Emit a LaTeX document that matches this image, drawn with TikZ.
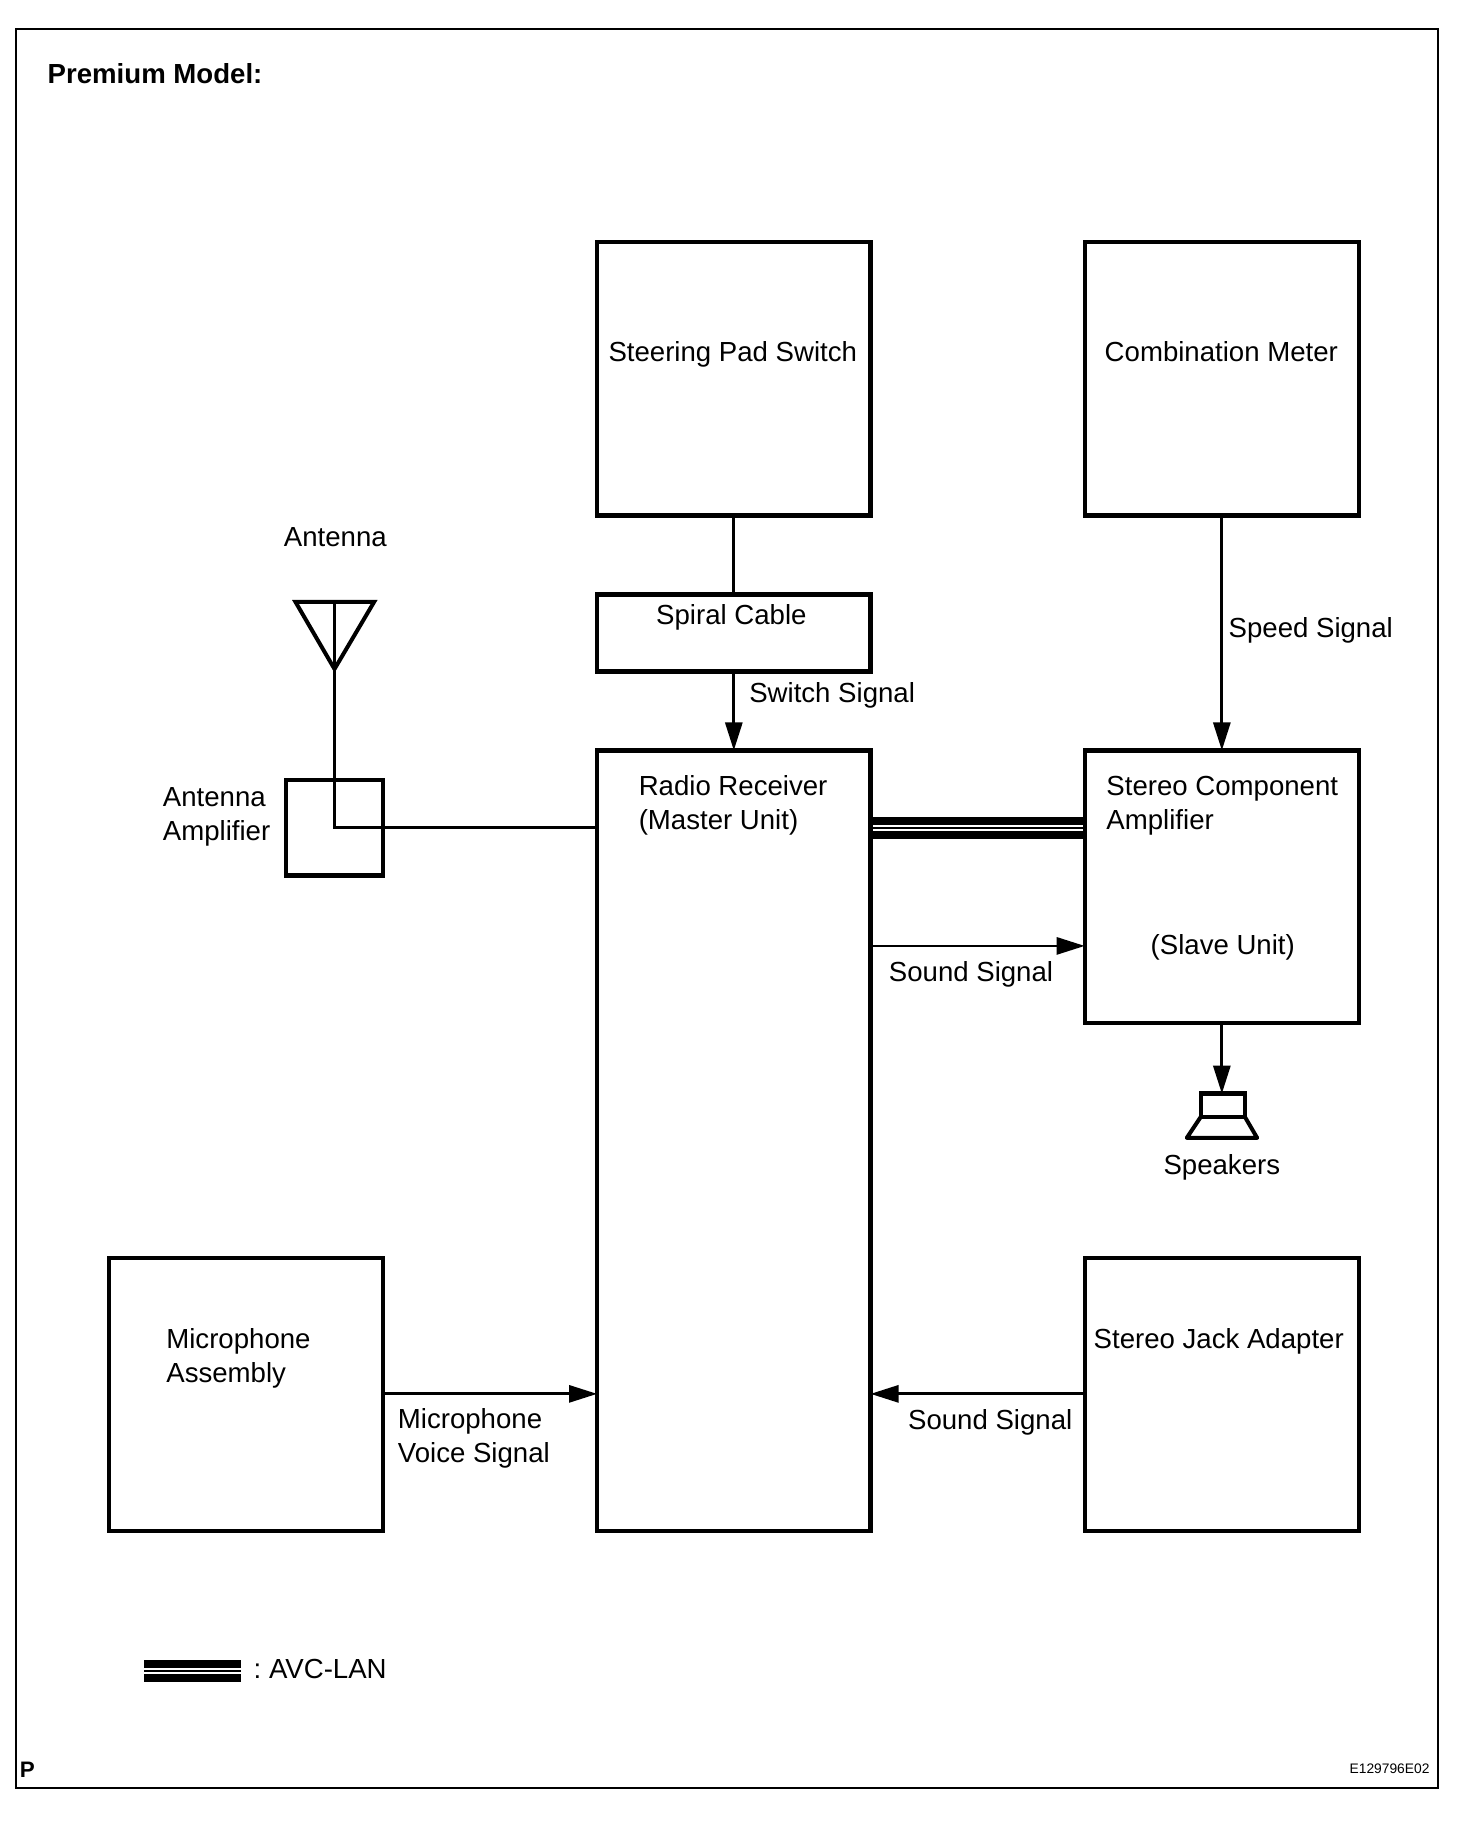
\documentclass[tikz,border=0pt]{standalone}
\usepackage{fontspec}
\setmainfont{Liberation Sans}
\usetikzlibrary{arrows.meta}
\tikzset{
  boxn/.style={draw=black,line width=2.2pt,rectangle,inner sep=0pt,outer sep=0pt,fill=white},
  lbl/.style={inner sep=0pt,outer sep=0pt,anchor=base west,align=left,font=\fontsize{13.8}{16.9}\selectfont},
  title/.style={inner sep=0pt,outer sep=0pt,anchor=base west,font=\fontsize{13.8}{16}\selectfont\bfseries},
  wire/.style={draw=black,line width=1.4pt,line join=miter},
  sig/.style={wire,-{Stealth[length=14pt,width=8.5pt,inset=0pt]}},
  avcA/.style={draw=black,line width=3.9pt},
  avcB/.style={draw=black,line width=1.3pt},
  sym/.style={draw=black,line width=2pt,line join=miter}
}
\newcommand{\bx}[6]{\node[boxn,minimum width=#4*1.1635*0.5pt-#2*1.1635*0.5pt,minimum height=#5*1.1635*0.5pt-#3*1.1635*0.5pt] (#1) at ({(#2+#4)/2},{(#3+#5)/2}) {#6};}
\begin{document}
\begin{tikzpicture}[x=0.58175pt,y=-0.58175pt]
\useasboundingbox (0,0) rectangle (1265.15,1567.7);
\fill[white] (0,0) rectangle (1265.15,1567.7);
\node[draw=black,line width=1.2pt,inner sep=0pt,outer sep=0pt,minimum width=1222*0.58175pt,minimum height=1512*0.58175pt] (frame) at (625,780.7) {};

\bx{steer}{513.2}{208}{748.2}{443.2}{}
\bx{combo}{932.3}{208}{1168}{443.2}{}
\bx{spiral}{513.2}{511}{748.2}{577.3}{}
\bx{radio}{513.2}{645}{748.2}{1316}{}
\bx{stereo}{932.3}{645}{1168}{879.3}{}
\bx{amp}{246}{670.6}{329}{752.6}{}
\bx{mic}{93.7}{1081}{329.2}{1316}{}
\bx{jack}{932.3}{1081}{1168}{1316}{}
\bx{spk}{1032}{940}{1070}{960}{}

% antenna
\coordinate (antL) at (254,517.4);
\coordinate (antR) at (321.5,517.4);
\coordinate (antT) at (287.5,575);
\coordinate (antTop) at (287.3,517.4);
\coordinate (ampBend) at (287.3,711);
\draw[sym] (antL) -- (antR) -- (antT) -- cycle;
\draw[wire] (antTop) -- (ampBend) -- (radio.west|-ampBend);

% speaker horn
\coordinate (hornBL) at (1020,978);
\coordinate (hornBR) at (1080.5,978);
\draw[sym,line join=round] (spk.south west) -- (hornBL) -- (hornBR) -- (spk.south east);

% connectors
\draw[wire] (steer.south) -- (spiral.north-|steer.south);
\draw[sig] (spiral.south) -- (radio.north);
\draw[sig] (combo.south) -- (stereo.north);
\draw[sig] (stereo.south) -- (stereo.south|-spk.north);
\coordinate (avc1) at (0,705.6);
\coordinate (avc2) at (0,711.6);
\coordinate (avc3) at (0,717.8);
\draw[avcA] (radio.east|-avc1) -- (stereo.west|-avc1);
\draw[avcB] (radio.east|-avc2) -- (stereo.west|-avc2);
\draw[avcA] (radio.east|-avc3) -- (stereo.west|-avc3);
\coordinate (snd) at (0,813);
\draw[sig] (radio.east|-snd) -- (stereo.west|-snd);
\coordinate (micY) at (0,1198);
\draw[sig] (mic.east|-micY) -- (radio.west|-micY);
\draw[sig] (jack.west|-micY) -- (radio.east|-micY);

% legend
\coordinate (lgA1) at (124,1430.3);
\coordinate (lgB1) at (207,1430.3);
\coordinate (lgA2) at (124,1436.3);
\coordinate (lgB2) at (207,1436.3);
\coordinate (lgA3) at (124,1442.5);
\coordinate (lgB3) at (207,1442.5);
\draw[avcA] (lgA1) -- (lgB1);
\draw[avcB] (lgA2) -- (lgB2);
\draw[avcA] (lgA3) -- (lgB3);

% labels
\node[title] (tPrem) at (41,71.5) {Premium Model:};
\node[lbl] (tSteer) at (523,311) {Steering Pad Switch};
\node[lbl] (tCombo) at (949.5,311) {Combination Meter};
\node[lbl] (tAnt) at (244,469.5) {Antenna};
\node[lbl] (tSpiral) at (564,537) {Spiral Cable};
\node[lbl] (tSwitch) at (644,603.5) {Switch Signal};
\node[lbl] (tSpeed) at (1056,548) {Speed Signal};
\node[lbl] (tAmp) at (140,722) {Antenna\\Amplifier};
\node[lbl] (tRadio) at (549,713) {Radio Receiver\\(Master Unit)};
\node[lbl] (tStereo) at (951,713) {Stereo Component\\Amplifier};
\node[lbl] (tSlave) at (989,820.5) {(Slave Unit)};
\node[lbl] (tSnd) at (764,843.5) {Sound Signal};
\node[lbl] (tSpk) at (1000,1009.5) {Speakers};
\node[lbl] (tMic) at (143,1188) {Microphone\\Assembly};
\node[lbl] (tJack) at (940,1159) {Stereo Jack Adapter};
\node[lbl] (tVoice) at (342,1257) {Microphone\\Voice Signal};
\node[lbl] (tSnd2) at (780.5,1228.5) {Sound Signal};
\node[lbl] (tAvc) at (218,1443) {\spaceskip=2.6pt\relax : AVC-LAN};
\node[title,font=\fontsize{11.2}{13}\selectfont\bfseries] (tP) at (17,1528) {P};
\node[lbl,font=\fontsize{6.9}{8}\selectfont] (tCode) at (1160,1524) {E129796E02};
\end{tikzpicture}
\end{document}
